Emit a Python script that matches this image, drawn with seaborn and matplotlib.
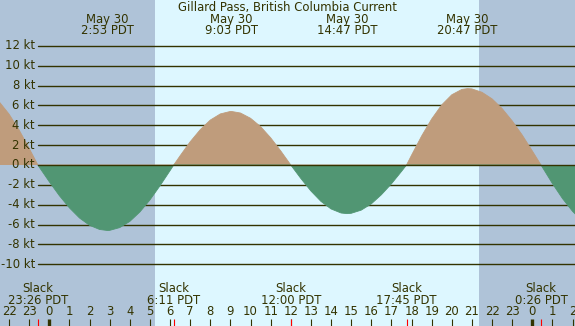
#!/usr/bin/env python3
"""Tidal current prediction chart for Gillard Pass, May 30."""

import numpy as np
import matplotlib
matplotlib.use('Agg')
import matplotlib.pyplot as plt
import matplotlib.transforms as mtrans
import seaborn as sns

# Current speed (kt), hours relative to May 30 0:00 PDT
hours = [-2.5, -2.0, -1.5, -1.0, -0.567, -0.5, 0.0, 0.5, 1.0, 1.5, 2.0, 2.5,
         2.883, 3.0, 3.5, 4.0, 4.5, 5.0, 5.5, 6.0, 6.183, 6.5, 7.0, 7.5, 8.0,
         8.5, 9.0, 9.05, 9.5, 10.0, 10.5, 11.0, 11.5, 12.0, 12.5, 13.0, 13.5,
         14.0, 14.5, 14.783, 15.0, 15.5, 16.0, 16.5, 17.0, 17.5, 17.75, 18.0,
         18.5, 19.0, 19.5, 20.0, 20.5, 20.783, 21.0, 21.5, 22.0, 22.5, 23.0,
         23.5, 24.0, 24.433, 24.5, 25.0, 25.5, 26.0, 26.5]
speed = [6.40, 5.13, 3.53, 1.68, 0.0, -0.21, -1.69, -3.09, -4.32, -5.34, -6.08,
         -6.50, -6.60, -6.59, -6.31, -5.69, -4.74, -3.52, -2.10, -0.57, 0.0,
         0.93, 2.34, 3.56, 4.53, 5.15, 5.40, 5.40, 5.24, 4.71, 3.87, 2.74, 1.42,
         0.0, -1.36, -2.62, -3.67, -4.43, -4.84, -4.90, -4.87, -4.55, -3.92,
         -3.00, -1.90, -0.65, 0.0, 0.99, 2.92, 4.64, 6.06, 7.08, 7.62, 7.70,
         7.67, 7.33, 6.67, 5.69, 4.45, 3.02, 1.42, 0.0, -0.22, -1.87, -3.38,
         -4.67, -5.68]

# Max current events (top labels) and slack events (bottom labels)
max_times = [2.883, 9.05, 14.783, 20.783]
max_labels = ['2:53', '9:03', '14:47', '20:47']
slack_times = [-0.567, 6.183, 12.0, 17.75, 24.433]
slack_labels = ['23:26', '6:11', '12:00', '17:45', '0:26']

kt_levels = [-10, -8, -6, -4, -2, 0, 2, 4, 6, 8, 10, 12]
tick_hours = list(range(-2, 27))
sunrise, sunset = 5.25, 21.37

TITLE = 'Gillard Pass, British Columbia Current'
DATE = 'May 30'

# Colours
DAY = '#ddf7ff'
NIGHT = '#afc3d8'
EBB = '#bf9c7c'
FLOOD = '#519673'
INK = '#333300'


def main():
    sns.set_theme(style='white')
    plt.rcParams['font.family'] = ['DejaVu Sans']
    fs = 8.4

    W, H = 575, 326
    fig = plt.figure(figsize=(W / 100, H / 100), dpi=100)
    ax = fig.add_axes([0, 0, 1, 1])
    ax.set_facecolor(DAY)

    # pixel calibration
    px_per_h = 20.125
    x0 = 49.3
    xmin, xmax = -x0 / px_per_h, (W - x0) / px_per_h
    px_per_kt = 9.92
    y0 = 165
    ymax, ymin = y0 / px_per_kt, -(H - y0) / px_per_kt
    ax.set_xlim(xmin, xmax)
    ax.set_ylim(ymin, ymax)

    # night shading
    ax.axvspan(xmin, sunrise, color=NIGHT, lw=0, zorder=0)
    ax.axvspan(sunset, xmax, color=NIGHT, lw=0, zorder=0)

    # grid lines + labels
    ylab_tr = mtrans.blended_transform_factory(mtrans.IdentityTransform(),
                                               ax.transData)
    gx = 38 / W
    for v in kt_levels:
        ax.axhline(v, xmin=gx, xmax=1, color=INK, lw=1.0,
                   zorder=4 if v == 0 else 1)
        ax.text(35, v, f'{v} kt', transform=ylab_tr, ha='right',
                va='center', fontsize=fs, color=INK, zorder=5)

    # current curve
    t = np.array(hours)
    s = np.array(speed)
    ax.fill_between(t, s, 0, where=s >= 0, interpolate=True, color=EBB,
                    lw=0, zorder=2)
    ax.fill_between(t, s, 0, where=s <= 0, interpolate=True, color=FLOOD,
                    lw=0, zorder=2)
    sns.lineplot(x=t, y=np.where(s >= 0, s, np.nan), ax=ax, color=EBB,
                 lw=0.6, zorder=3)
    sns.lineplot(x=t, y=np.where(s <= 0, s, np.nan), ax=ax, color=FLOOD,
                 lw=0.6, zorder=3)

    xt = ax.get_xaxis_transform()

    def fy(px):
        return 1 - px / H

    # title and max current labels
    ax.text(0.5, fy(7.5), TITLE, transform=ax.transAxes, ha='center',
            va='center', fontsize=fs, color=INK)
    for tm, lab in zip(max_times, max_labels):
        ax.text(tm, fy(19.5), DATE, transform=xt, ha='center', va='center',
                fontsize=fs, color=INK, zorder=6)
        ax.text(tm, fy(31), f'{lab} PDT', transform=xt, ha='center',
                va='center', fontsize=fs, color=INK, zorder=6)

    # slack labels
    for tm, lab in zip(slack_times, slack_labels):
        ax.text(tm, fy(288), 'Slack', transform=xt, ha='center', va='center',
                fontsize=fs, color=INK, zorder=6)
        ax.text(tm, fy(300), f'{lab} PDT', transform=xt, ha='center',
                va='center', fontsize=fs, color=INK, zorder=6)

    # hour ticks, thick at midnight, red at slack
    tick_top = fy(318.5)
    for h in tick_hours:
        hh = h % 24
        ax.vlines(h, 0, tick_top, transform=xt, color=INK,
                  lw=2.4 if hh == 0 else 0.8, zorder=6)
        ax.text(h, fy(311.5), str(hh), transform=xt, ha='center',
                va='center', fontsize=fs, color=INK, zorder=6)
    for tm in slack_times:
        ax.vlines(tm, 0, tick_top, transform=xt, color='red', lw=0.8,
                  zorder=6)

    ax.set_xlabel('')
    ax.set_ylabel('')
    ax.set_xticks([])
    ax.set_yticks([])
    for sp in ax.spines.values():
        sp.set_visible(False)

    fig.savefig('out.png', dpi=100)


if __name__ == '__main__':
    main()
